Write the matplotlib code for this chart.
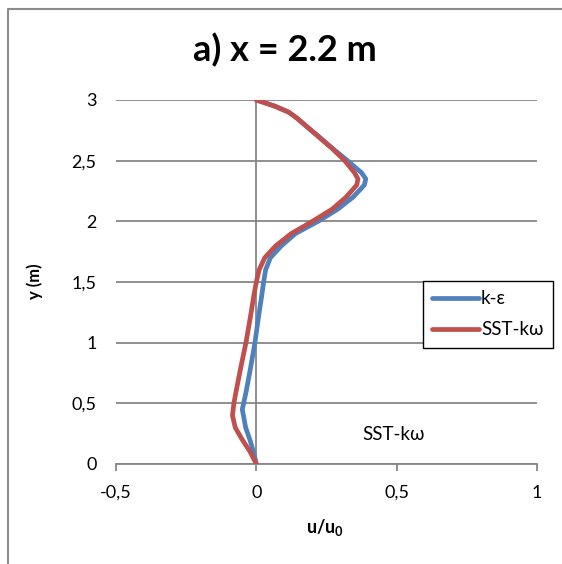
import matplotlib
matplotlib.use("Agg")
import matplotlib.pyplot as plt
from matplotlib.lines import Line2D

plt.rcParams["font.family"] = ["Lato", "DejaVu Sans"]
plt.rcParams["mathtext.fontset"] = "custom"
plt.rcParams["mathtext.rm"] = "Lato"
plt.rcParams["mathtext.bf"] = "Lato:bold"

# data
y_ke = [0, 0.1, 0.2, 0.3, 0.45, 0.6, 0.8, 1.0, 1.2, 1.4, 1.5, 1.6, 1.7, 1.8, 1.9,
        2.0, 2.1, 2.2, 2.3, 2.35, 2.4, 2.5, 2.6, 2.7, 2.8, 2.85, 2.9, 2.95, 3.0]
u_ke = [0, -0.01, -0.023, -0.038, -0.05, -0.036, -0.02, -0.005, 0.007, 0.02, 0.026,
        0.033, 0.05, 0.09, 0.14, 0.22, 0.29, 0.345, 0.385, 0.39, 0.375, 0.325, 0.272,
        0.222, 0.17, 0.145, 0.115, 0.065, 0]

y_sst = [0, 0.1, 0.2, 0.3, 0.4, 0.5, 0.6, 0.8, 1.0, 1.2, 1.4, 1.5, 1.6, 1.7, 1.8, 1.9,
         2.0, 2.1, 2.2, 2.3, 2.35, 2.4, 2.5, 2.6, 2.7, 2.8, 2.85, 2.9, 2.95, 3.0]
u_sst = [0, -0.022, -0.05, -0.075, -0.085, -0.08, -0.072, -0.055, -0.037, -0.022,
         -0.008, 0.0, 0.01, 0.03, 0.07, 0.125, 0.2, 0.27, 0.32, 0.358, 0.362, 0.35,
         0.315, 0.27, 0.22, 0.17, 0.145, 0.115, 0.065, 0]

x_ticks = [-0.5, 0, 0.5, 1]
x_labels = ["-0,5", "0", "0,5", "1"]
y_ticks = [0, 0.5, 1, 1.5, 2, 2.5, 3]
y_labels = ["0", "0,5", "1", "1,5", "2", "2,5", "3"]

BLUE = "#4F81BD"
RED = "#C0504D"
GRID = "#878787"

fig = plt.figure(figsize=(5.62, 5.64), dpi=100)
ax = fig.add_axes([116 / 562, 1 - 464 / 564, 421 / 562, 364 / 564])

ax.set_xlim(-0.5, 1)
ax.set_ylim(0, 3)
for s in ["top", "right", "left"]:
    ax.spines[s].set_visible(False)
ax.spines["bottom"].set_color(GRID)
ax.spines["bottom"].set_linewidth(1.3)

ax.set_xticks(x_ticks)
ax.set_xticklabels(x_labels)
ax.set_yticks(y_ticks)
ax.set_yticklabels(y_labels)
ax.tick_params(axis="x", length=5, width=1.3, color=GRID, pad=10, labelsize=13)
ax.tick_params(axis="y", length=0, pad=14, labelsize=13)
ax.grid(axis="y", color=GRID, linewidth=1.3)
ax.axvline(0, color=GRID, linewidth=1.3, zorder=1)

ax.plot(u_ke, y_ke, color=BLUE, lw=3.4, label="k-ε", solid_joinstyle="round",
        solid_capstyle="round", zorder=3)
ax.plot(u_sst, y_sst, color=RED, lw=3.4, label="SST-kω", solid_joinstyle="round",
        solid_capstyle="round", zorder=4)

ax.text(0.49, 0.24, "SST-kω", fontsize=13.5, ha="center", va="center")

leg = fig.legend(loc="upper left", bbox_to_anchor=(423 / 562, 1 - 281 / 564),
                 bbox_transform=fig.transFigure, fontsize=13.5, handlelength=2.5,
                 handletextpad=0.1, borderpad=0.5, labelspacing=0.75,
                 fancybox=False, framealpha=1, borderaxespad=0)
leg.get_frame().set_edgecolor("black")
leg.get_frame().set_linewidth(1.0)

fig.text(285 / 562, 1 - 50 / 564, "a) x = 2.2 m", fontsize=26, fontweight="bold",
         ha="center", va="center")
fig.text(35 / 562, 1 - 281 / 564, "y (m)", fontsize=12, fontweight="bold",
         rotation=90, ha="center", va="center")
fig.text(325 / 562, 1 - 527 / 564, r"u/u$_\mathbf{0}$", fontsize=13, fontweight="bold",
         ha="center", va="center")

# outer chart border (left and top edges visible)
fig.add_artist(Line2D([8 / 562, 8 / 562, 1], [0, 1 - 9 / 564, 1 - 9 / 564],
                      transform=fig.transFigure, color="#8c8c8c", lw=1.5))

fig.savefig("out.png", dpi=100)
